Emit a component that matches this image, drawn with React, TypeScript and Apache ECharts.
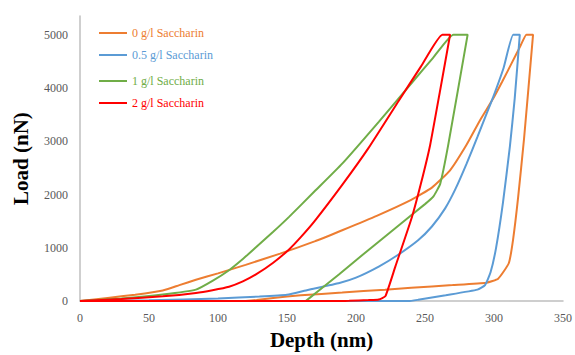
import React, { useEffect, useRef } from "react";
import * as echarts from "echarts";

const seriesNames = ["0 g/l Saccharin", "0.5 g/l Saccharin", "1 g/l Saccharin", "2 g/l Saccharin"];
const seriesColors = ["#ED7D31", "#5B9BD5", "#70AD47", "#FF0000"];
const xTicks = [0, 50, 100, 150, 200, 250, 300, 350];
const yTicks = [0, 1000, 2000, 3000, 4000, 5000];

// [depth (nm), load (nN)]
const saccharin0: number[][] = [
  [0, 0], [20, 60], [40, 120], [60, 200], [72, 300], [84, 400], [100, 520], [120, 680],
  [145, 890], [170, 1120], [190, 1330], [215, 1600], [240, 1900], [255, 2130], [268, 2450],
  [280, 2930], [290, 3400], [299.4, 3800], [306, 4120], [313, 4475], [319, 4780], [323.5, 5000],
  [328.3, 5000], [321.8, 3056], [317.5, 1950], [313.8, 1150], [310.7, 710], [303, 420], [294.6, 345],
  [270, 300], [240, 250], [221, 215], [190, 160], [160, 110], [140, 60], [128, 20], [120, 0],
];
const saccharin05: number[][] = [
  [0, 0], [50, 15], [100, 50], [130, 85], [150, 120], [165, 210], [188, 340], [200, 440],
  [216.5, 648], [230, 860], [245, 1142], [255, 1400], [264.6, 1740], [272, 2100], [280, 2570],
  [288, 3080], [295, 3540], [299.4, 3828], [307, 4380], [313.9, 5000], [318.7, 5000],
  [315, 3800], [311.5, 2900], [306.5, 1850], [301.5, 1000], [297.5, 540], [293.5, 300], [288, 215],
  [265, 110], [245, 25], [238, 0], [0, 0],
];
const saccharin1: number[][] = [
  [0, 0], [30, 50], [60, 124], [84, 216], [96, 380], [108, 580], [118, 790], [127.5, 1010],
  [140, 1300], [151.5, 1580], [170, 2060], [190, 2580], [216.5, 3365], [241.7, 4135],
  [256, 4570], [270.6, 5000], [280.9, 5000], [266.8, 2926],
  [261, 2200], [256, 1960], [250, 1820], [230, 1400], [202, 810], [187.6, 500], [163.5, 0],
];
const saccharin2: number[][] = [
  [0, 0], [30, 40], [60, 90], [84, 154], [96, 205], [108, 270], [118, 370], [127.5, 500],
  [140, 720], [151.5, 970], [160, 1200], [170, 1500], [190, 2180], [209, 2870], [231, 3760],
  [247, 4400], [262.6, 5000], [268.2, 5000],
  [261, 3960], [253.7, 2926], [247, 2200], [240.5, 1574], [228.5, 648], [221.3, 93], [216.5, 31],
  [209, 20], [195, 6], [185, 0], [0, 0],
];
const seriesData = [saccharin0, saccharin05, saccharin1, saccharin2];
const legendCenters = [33, 55, 81, 103];

const serif = '"Liberation Serif", "Times New Roman", serif';

export default function App() {
  const ref = useRef<HTMLDivElement>(null);
  useEffect(() => {
    document.body.style.margin = "0";
    if (!ref.current) return;
    const chart = echarts.init(ref.current, undefined, { renderer: "svg" });
    chart.setOption({
      animation: false,
      backgroundColor: "#ffffff",
      grid: { left: 80, right: 10, top: 16, bottom: 50 },
      legend: seriesNames.map((n, i) => ({
        data: [{ name: n, textStyle: { color: seriesColors[i] } }],
        left: 99,
        top: legendCenters[i] - 7,
        padding: 0,
        icon: "rect",
        itemWidth: 28,
        itemHeight: 2,
        textStyle: { fontFamily: serif, fontSize: 12, lineHeight: 14 },
      })),
      xAxis: {
        type: "value",
        min: 0,
        max: 350,
        interval: 50,
        name: "Depth (nm)",
        nameLocation: "middle",
        nameGap: 25,
        nameTextStyle: { fontFamily: serif, fontSize: 21, fontWeight: "bold", color: "#000" },
        axisLine: { show: true, lineStyle: { color: "#BFBFBF", width: 1.5 } },
        axisTick: { show: false },
        splitLine: { show: false },
        axisLabel: {
          margin: 11,
          fontFamily: serif,
          fontSize: 12,
          color: "#595959",
          formatter: (v: number) => (xTicks.includes(v) ? String(v) : ""),
        },
      },
      yAxis: {
        type: "value",
        min: 0,
        max: 5350,
        interval: 1000,
        name: "Load (nN)",
        nameLocation: "middle",
        nameGap: 49,
        nameTextStyle: { fontFamily: serif, fontSize: 21, fontWeight: "bold", color: "#000" },
        axisLine: { show: true, lineStyle: { color: "#BFBFBF", width: 1.5 } },
        axisTick: { show: false },
        splitLine: { show: false },
        axisLabel: {
          margin: 12,
          fontFamily: serif,
          fontSize: 12,
          color: "#595959",
          formatter: (v: number) => (yTicks.includes(v) ? String(v) : ""),
        },
      },
      series: seriesNames.map((n, i) => ({
        name: n,
        type: "line",
        data: seriesData[i],
        symbol: "none",
        showSymbol: false,
        smooth: 0.15,
        color: seriesColors[i],
        lineStyle: { width: 2, color: seriesColors[i] },
      })),
    });
    return () => chart.dispose();
  }, []);
  return <div ref={ref} style={{ width: 575, height: 355 }} />;
}
